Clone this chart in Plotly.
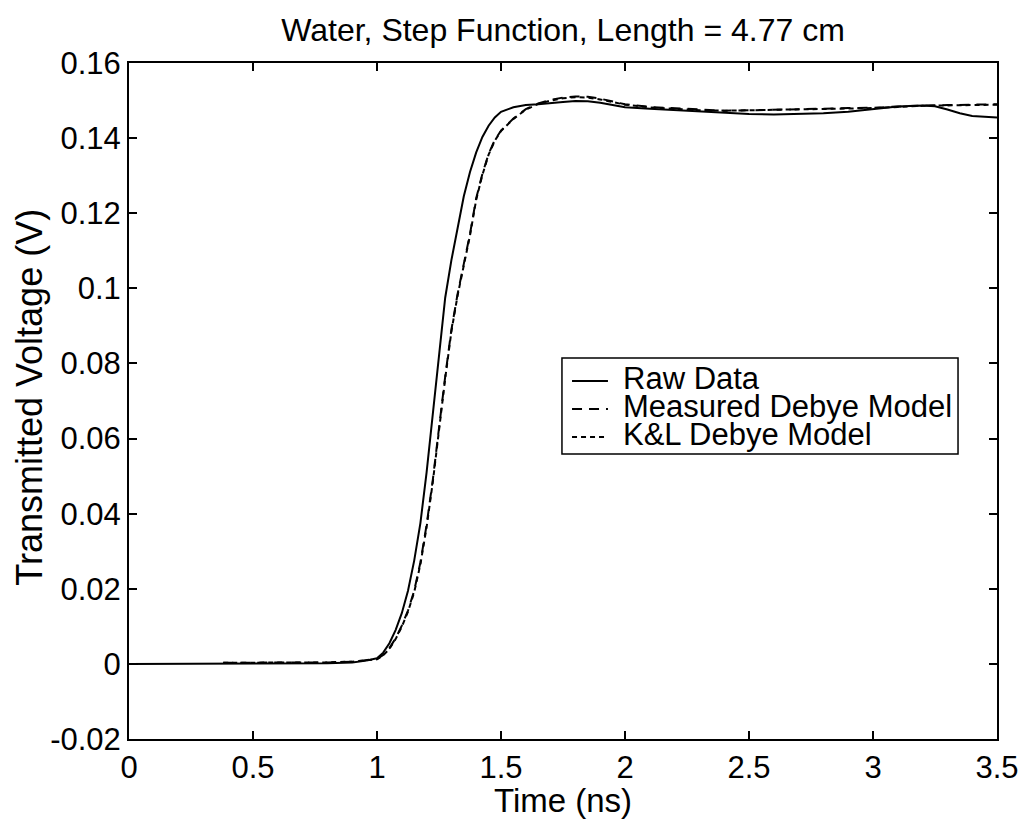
import plotly.graph_objects as go

# ---- data ----
raw_t = [0.0, 0.5, 0.8, 0.9, 0.95, 1.0, 1.025, 1.05, 1.075, 1.1, 1.125, 1.15, 1.175, 1.2,
         1.225, 1.25, 1.275, 1.3, 1.325, 1.35, 1.375, 1.4, 1.425, 1.45, 1.475, 1.5, 1.55,
         1.6, 1.65, 1.7, 1.75, 1.8, 1.85, 1.9, 1.95, 2.0, 2.1, 2.2, 2.3, 2.4, 2.5, 2.6,
         2.7, 2.8, 2.9, 3.0, 3.1, 3.2, 3.25, 3.3, 3.35, 3.4, 3.45, 3.5]
raw_v = [0.0, 0.0, 0.0002, 0.0004, 0.0008, 0.0015, 0.003, 0.0055, 0.009, 0.0135, 0.0195,
         0.0275, 0.0375, 0.051, 0.0665, 0.0835, 0.0975, 0.1075, 0.1165, 0.1245, 0.131,
         0.1362, 0.1403, 0.1433, 0.1455, 0.147, 0.1482, 0.1488, 0.149, 0.1492, 0.1496,
         0.1499, 0.1498, 0.1494, 0.1488, 0.1482, 0.1478, 0.1474, 0.147, 0.1467, 0.1464,
         0.1463, 0.1464, 0.1466, 0.147, 0.1477, 0.1484, 0.1487, 0.1485, 0.1476, 0.1466,
         0.1459, 0.1456, 0.1455]

model_t = [0.38, 0.6, 0.8, 0.9, 0.95, 1.0, 1.025, 1.05, 1.075, 1.1, 1.125, 1.15, 1.175, 1.2,
           1.225, 1.25, 1.275, 1.3, 1.325, 1.35, 1.375, 1.4, 1.425, 1.45, 1.475, 1.5, 1.525,
           1.55, 1.6, 1.65, 1.7, 1.75, 1.8, 1.85, 1.9, 1.95, 2.0, 2.1, 2.2, 2.3, 2.4, 2.5,
           2.6, 2.7, 2.8, 2.9, 3.0, 3.1, 3.2, 3.3, 3.4, 3.5]
measured_v = [0.0003, 0.0003, 0.0004, 0.0006, 0.0009, 0.0013, 0.0024, 0.0042, 0.0068, 0.0102,
              0.0142, 0.0195, 0.027, 0.037, 0.049, 0.063, 0.0765, 0.089, 0.0985, 0.1065,
              0.1145, 0.124, 0.1305, 0.1358, 0.1395, 0.142, 0.1437, 0.1452, 0.1477, 0.1492,
              0.1502, 0.1508, 0.1511, 0.151, 0.1505, 0.1498, 0.149, 0.1483, 0.1479, 0.1475,
              0.1473, 0.1474, 0.1476, 0.1478, 0.1479, 0.148, 0.1481, 0.1484, 0.1487, 0.1488,
              0.1489, 0.149]
kl_v = [0.0003, 0.0003, 0.0004, 0.0006, 0.0009, 0.0012, 0.0023, 0.004, 0.0066, 0.0099,
        0.0139, 0.0191, 0.0265, 0.0364, 0.0484, 0.0624, 0.076, 0.0885, 0.0981, 0.1061,
        0.1141, 0.1236, 0.1302, 0.1356, 0.1393, 0.1419, 0.1436, 0.1451, 0.1476, 0.1491,
        0.15, 0.1506, 0.1509, 0.1508, 0.1503, 0.1497, 0.1489, 0.1482, 0.1478, 0.1474,
        0.1473, 0.1474, 0.1476, 0.1477, 0.1478, 0.1479, 0.148, 0.1483, 0.1486, 0.1487,
        0.1488, 0.1489]

series_names = ["Raw Data", "Measured Debye Model", "K&L Debye Model"]
series_dash = ["solid", "10px,7px", "5px,4px"]

x_ticks = [0, 0.5, 1, 1.5, 2, 2.5, 3, 3.5]
x_tick_text = ["0", "0.5", "1", "1.5", "2", "2.5", "3", "3.5"]
y_ticks = [-0.02, 0, 0.02, 0.04, 0.06, 0.08, 0.1, 0.12, 0.14, 0.16]
y_tick_text = ["-0.02", "0", "0.02", "0.04", "0.06", "0.08", "0.1", "0.12", "0.14", "0.16"]

title_text = "Water, Step Function, Length = 4.77 cm"
x_title = "Time (ns)"
y_title = "Transmitted Voltage (V)"

FONT = "Liberation Sans, Arial, Helvetica, sans-serif"
TICK_SIZE = 31
XLABEL_SIZE = 33
YLABEL_SIZE = 36
LEGEND_SIZE = 31

fig = go.Figure()
xs = [raw_t, model_t, model_t]
ys = [raw_v, measured_v, kl_v]
for x, y, name, dash in zip(xs, ys, series_names, series_dash):
    fig.add_trace(go.Scatter(x=x, y=y, mode="lines", name=name, showlegend=False,
                             line=dict(color="black", width=2, dash=dash)))

# MATLAB-style legend box (tight rows), drawn in paper coordinates
leg_x0, leg_x1, leg_y0, leg_y1 = 0.4988, 0.9551, 0.4216, 0.5636
fig.add_shape(type="rect", xref="paper", yref="paper", x0=leg_x0, x1=leg_x1,
              y0=leg_y0, y1=leg_y1, line=dict(color="black", width=1.5),
              fillcolor="white", layer="above")
row_y = [0.5296, 0.4882, 0.4467]
for yy, name, dash in zip(row_y, series_names, series_dash):
    fig.add_shape(type="line", xref="paper", yref="paper", x0=0.5104, x1=0.5518,
                  y0=yy, y1=yy, line=dict(color="black", width=2, dash=dash), layer="above")
    fig.add_annotation(xref="paper", yref="paper", x=0.5665, y=yy + 0.004, xanchor="left",
                       yanchor="middle", text=name, showarrow=False,
                       font=dict(size=LEGEND_SIZE, family=FONT, color="black"))

# axis titles
fig.add_annotation(xref="paper", yref="paper", x=0.5, y=-0.091, xanchor="center",
                   yanchor="middle", text=x_title, showarrow=False,
                   font=dict(size=XLABEL_SIZE, family=FONT, color="black"))
fig.add_annotation(xref="paper", yref="paper", x=-0.114, y=0.505, xanchor="center",
                   yanchor="middle", text=y_title, showarrow=False, textangle=-90,
                   font=dict(size=YLABEL_SIZE, family=FONT, color="black"))

fig.update_layout(
    width=1023, height=821,
    paper_bgcolor="white", plot_bgcolor="white",
    margin=dict(l=129, r=26, t=63, b=82, autoexpand=False),
    font=dict(family=FONT, color="black", size=TICK_SIZE),
    title=dict(text=title_text, x=0.5, xanchor="center", xref="paper",
               y=1 - 30 / 821, yanchor="middle", font=dict(size=32, family=FONT)),
    showlegend=False,
)
fig.update_xaxes(range=[0, 3.5], tickvals=x_ticks, ticktext=x_tick_text,
                 ticks="inside", ticklen=8, tickwidth=1.5, tickcolor="black",
                 showline=True, linecolor="black", linewidth=2, mirror="ticks",
                 showgrid=False, zeroline=False, automargin=False,
                 tickfont=dict(size=TICK_SIZE))
fig.update_yaxes(range=[-0.02, 0.16], tickvals=y_ticks, ticktext=y_tick_text,
                 ticks="inside", ticklen=8, tickwidth=1.5, tickcolor="black",
                 showline=True, linecolor="black", linewidth=2, mirror="ticks",
                 showgrid=False, zeroline=False, automargin=False,
                 tickfont=dict(size=TICK_SIZE))

# remove the default 8px page margin so the 1023x821 figure fills the window exactly
page_fix = ("document.body.style.margin='0';"
            "document.body.style.overflow='hidden';"
            "document.documentElement.style.overflow='hidden';")
fig.write_html("out.html", post_script=page_fix, config={"displayModeBar": False})
